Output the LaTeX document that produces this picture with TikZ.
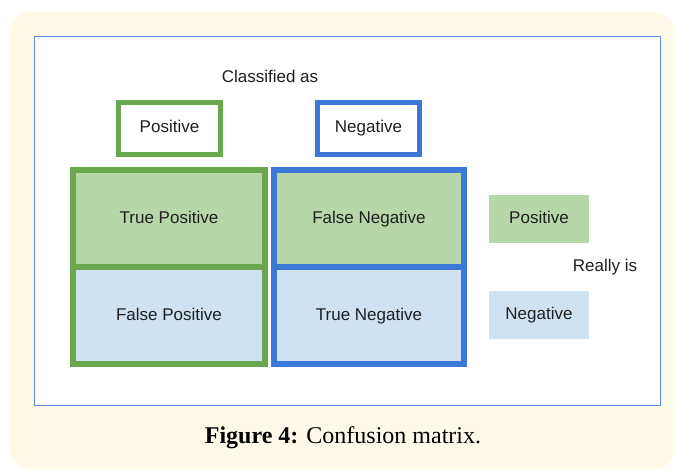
\documentclass[tikz,border=0pt]{standalone}
\usepackage{fontspec}
\setmainfont{Liberation Serif}
\newfontfamily\arialfont{Liberation Sans}
\usepackage{tikz}

\definecolor{cream}{HTML}{FFFAE8}
\definecolor{framblue}{HTML}{5B8EE0}
\definecolor{posgreen}{HTML}{6AA84F}
\definecolor{neggblue}{HTML}{3C78D8}
\definecolor{greenfill}{HTML}{B6D7A8}
\definecolor{bluefill}{HTML}{CFE2F3}

\begin{document}
\begin{tikzpicture}[x=1pt, y=-1pt,
  lbl/.style={font=\arialfont\fontsize{17}{20}\selectfont, text=black!88, text height=12.5pt, text depth=3.5pt},
  cell/.style={lbl, minimum width=#1, minimum height=97pt, inner sep=0pt},
  headbox/.style={lbl, draw=#1, line width=5pt, fill=white, minimum width=102pt, minimum height=52pt, inner sep=0pt},
  keybox/.style={lbl, fill=#1, minimum width=100pt, minimum height=48pt, inner sep=0pt}]
\useasboundingbox (0,0) rectangle (677,473);
% background and frame
\fill[cream, rounded corners=20pt] (10,12) rectangle (674,469);
\draw[framblue, fill=white, line width=1pt] (34,37) rectangle (660,405);

\node[lbl] (classified) at (270,78) {Classified as};
\node[headbox=posgreen] (hpos) at (169.5,128.5) {Positive};
\node[headbox=neggblue] (hneg) at (368.5,128.5) {Negative};

% the four cells
\node[cell=192pt, fill=greenfill] (tp) at (169,218.5) {True Positive};
\node[cell=192pt, fill=bluefill] (fp) at (169,315.5) {False Positive};
\node[cell=190pt, fill=greenfill] (fn) at (369,218.5) {False Negative};
\node[cell=190pt, fill=bluefill] (tn) at (369,315.5) {True Negative};

% column frames
\draw[posgreen, line width=6pt] (tp.north west) rectangle (fp.south east);
\draw[posgreen, line width=6pt] (tp.south west) -- (tp.south east);
\draw[neggblue, line width=6pt] (fn.north west) rectangle (tn.south east);
\draw[neggblue, line width=6pt] (fn.south west) -- (fn.south east);

% key on the right
\node[keybox=greenfill] (kpos) at (539,219) {Positive};
\node[lbl] (really) at (605,267) {Really is};
\node[keybox=bluefill] (kneg) at (539,315) {Negative};

\node[font=\fontsize{24}{28}\selectfont] (caption) at (343,438) {\textbf{Figure 4:} Confusion matrix.};
\end{tikzpicture}
\end{document}
